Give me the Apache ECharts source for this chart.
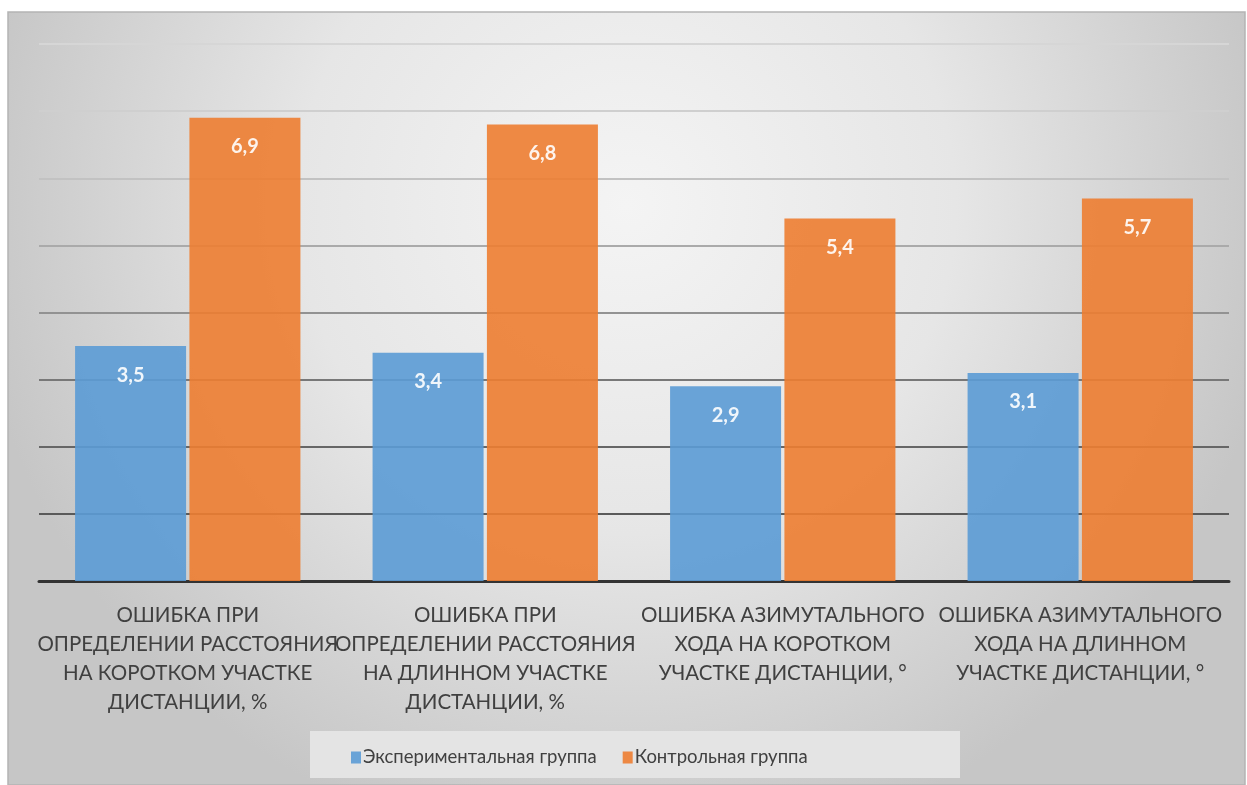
<!DOCTYPE html>
<html>
<head>
<meta charset="utf-8">
<script src="https://cdn.jsdelivr.net/npm/echarts@6/dist/echarts.min.js"></script>
<style>
html,body{margin:0;padding:0;background:#fff;}
#main{width:1247px;height:785px;}
</style>
</head>
<body>
<div id="main"></div>
<script>
const categories = [
  'ОШИБКА ПРИ\nОПРЕДЕЛЕНИИ РАССТОЯНИЯ\nНА КОРОТКОМ УЧАСТКЕ\nДИСТАНЦИИ, %',
  'ОШИБКА ПРИ\nОПРЕДЕЛЕНИИ РАССТОЯНИЯ\nНА ДЛИННОМ УЧАСТКЕ\nДИСТАНЦИИ, %',
  'ОШИБКА АЗИМУТАЛЬНОГО\nХОДА НА КОРОТКОМ\nУЧАСТКЕ ДИСТАНЦИИ, °',
  'ОШИБКА АЗИМУТАЛЬНОГО\nХОДА НА ДЛИННОМ\nУЧАСТКЕ ДИСТАНЦИИ, °'
];
const seriesNames = ['Экспериментальная группа', 'Контрольная группа'];
const experimental = [3.5, 3.4, 2.9, 3.1];
const control = [6.9, 6.8, 5.4, 5.7];

const chart = echarts.init(document.getElementById('main'), null, {renderer: 'canvas'});
const labelCfg = {
  show: true,
  position: 'insideTop',
  distance: 19,
  color: '#ffffff',
  fontFamily: 'Lato',
  fontWeight: 'bold',
  fontSize: 20,
  formatter: p => String(p.value).replace('.', ',')
};
chart.setOption({
  animation: false,
  backgroundColor: '#ffffff',
  graphic: [
    {
      type: 'rect', z: -10, silent: true,
      shape: {x: 8, y: 12, width: 1237, height: 773},
      style: {
        fill: {
          type: 'radial', x: 0.5, y: 0.25, r: 0.85,
          colorStops: [
            {offset: 0, color: '#f4f4f4'},
            {offset: 0.5, color: '#e6e6e6'},
            {offset: 1, color: '#c6c6c6'}
          ]
        },
        stroke: '#b4b4b4', lineWidth: 1.5
      }
    },
    {
      type: 'rect', z: -5, silent: true,
      shape: {x: 310, y: 731, width: 650, height: 47},
      style: {fill: '#e4e4e4'}
    }
  ],
  color: ['#5b9bd5', '#ed7d31'],
  grid: {left: 39, right: 18, top: 44, bottom: 204},
  legend: {
    data: seriesNames,
    left: 346,
    top: 743,
    icon: 'rect',
    itemWidth: 10,
    itemHeight: 12,
    itemGap: 26,
    textStyle: {fontFamily: 'Lato', fontSize: 18.5, color: '#404040', padding: [0, 0, 0, -3]}
  },
  xAxis: {
    type: 'category',
    data: categories,
    axisLine: {show: true, lineStyle: {color: '#333333', width: 3}},
    axisTick: {show: false},
    axisLabel: {
      interval: 0,
      margin: 20,
      fontFamily: 'Lato',
      fontSize: 20.5,
      lineHeight: 29,
      color: '#404040'
    }
  },
  yAxis: {
    type: 'value',
    min: 0,
    max: 8,
    interval: 1,
    axisLabel: {show: false},
    axisLine: {show: false},
    axisTick: {show: false},
    splitLine: {
      show: true,
      lineStyle: {
        width: 2,
        color: ['#555555', '#5a5a5a', '#666666', '#787878', '#929292', '#aaaaaa', '#c2c2c2', '#cfcfcf', '#d6d6d6']
      }
    }
  },
  series: [
    {
      name: seriesNames[0], type: 'bar', data: experimental,
      barWidth: 111, barGap: '3%',
      itemStyle: {opacity: 0.9},
      label: labelCfg
    },
    {
      name: seriesNames[1], type: 'bar', data: control,
      barWidth: 111, barGap: '3%',
      itemStyle: {opacity: 0.9},
      label: labelCfg
    }
  ]
});
</script>
</body>
</html>
